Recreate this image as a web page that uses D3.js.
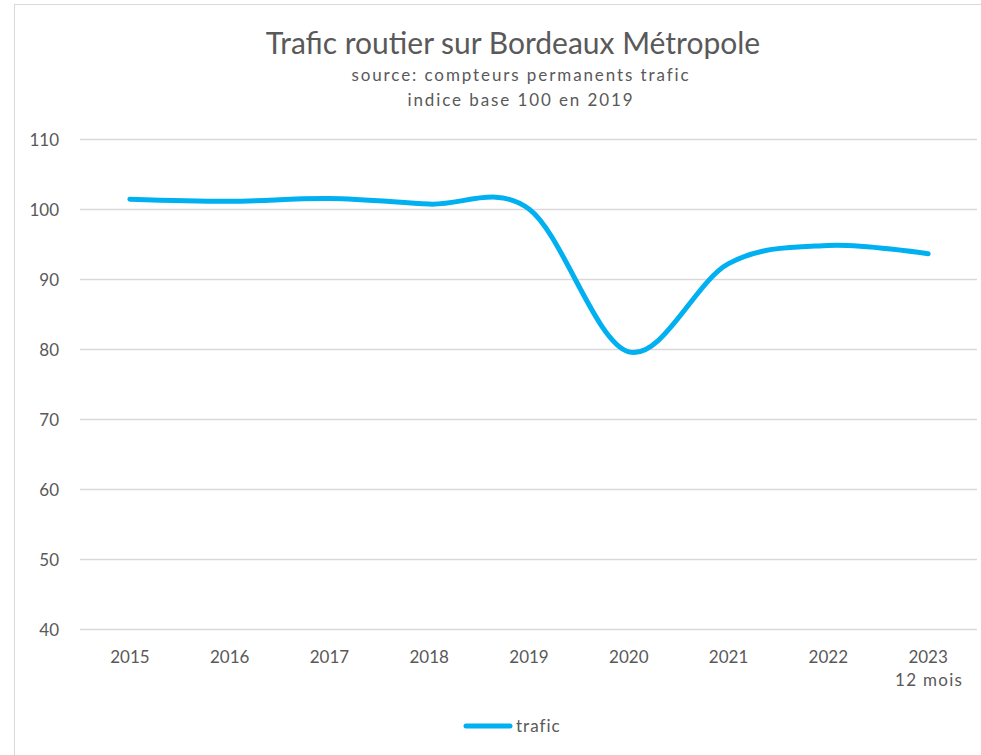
<!DOCTYPE html>
<html><head><meta charset="utf-8">
<script src="https://cdn.jsdelivr.net/npm/d3@7"></script>
<style>body{margin:0;background:#fff}svg{display:block}text{font-family:Lato,"Open Sans",sans-serif;fill:#595959}</style>
</head><body><svg id="c" width="981" height="755"></svg>
<script>
const categories = ["2015","2016","2017","2018","2019","2020","2021","2022","2023"];
const categorySub = ["","","","","","","","","12 mois"];
const trafic = [101.4, 101.1, 101.5, 100.7, 100.0, 79.6, 92.2, 94.8, 93.6];
const yTicks = [40,50,60,70,80,90,100,110];
const title = "Trafic routier sur Bordeaux Métropole";
const subtitles = ["source: compteurs permanents trafic", "indice base 100 en 2019"];
const seriesName = "trafic";

const svg = d3.select("#c");
const W = 981, H = 755;
// chart border
svg.append("rect").attr("x",14.5).attr("y",4.5).attr("width",W).attr("height",H)
  .attr("fill","none").attr("stroke","#d9d9d9").attr("stroke-width",1);

const x = d3.scaleBand().domain(categories).range([80, 978]);
const y = d3.scaleLinear().domain([40,110]).range([629, 139]);

// grid
svg.append("g").selectAll("line").data(yTicks).join("line")
  .attr("x1",80).attr("x2",977).attr("y1",d=>Math.round(y(d))+0.5).attr("y2",d=>Math.round(y(d))+0.5)
  .attr("stroke","#d9d9d9").attr("stroke-width",1.3);

// y labels
const yAxis = d3.axisLeft(y).tickValues(yTicks).tickSize(0).tickPadding(0);
const gy = svg.append("g").attr("transform","translate(59,0)").call(yAxis);
gy.select(".domain").remove();
gy.selectAll("text").attr("font-size",17).attr("dy","0.36em").style("fill","#595959").style("font-family","Lato");

// x labels
const xAxis = d3.axisBottom(x).tickSize(0).tickPadding(0);
const gx = svg.append("g").attr("transform","translate(0,663)").call(xAxis);
gx.select(".domain").remove();
gx.selectAll("text").attr("font-size",17).attr("dy","0").style("fill","#595959").style("font-family","Lato");
svg.append("g").selectAll("text").data(categories.map((c,i)=>({c,s:categorySub[i]})).filter(d=>d.s))
  .join("text").attr("x",d=>x(d.c)+x.bandwidth()/2+1).attr("y",686).attr("text-anchor","middle")
  .attr("font-size",17).attr("letter-spacing","1.3px").text(d=>d.s);

// line
const line = d3.line().x((d,i)=>x(categories[i])+x.bandwidth()/2).y(d=>y(d)).curve(d3.curveCatmullRom.alpha(0));
svg.append("path").datum(trafic).attr("d",line).attr("fill","none")
  .attr("stroke","#00b0f0").attr("stroke-width",5).attr("stroke-linecap","round").attr("stroke-linejoin","round");

// title
svg.append("text").attr("x",513).attr("y",54).attr("text-anchor","middle").attr("font-size",30).text(title);
subtitles.forEach((s,i)=>svg.append("text").attr("x",521).attr("y",81+i*24.5).attr("text-anchor","middle")
  .attr("font-size",17).attr("letter-spacing","1.9px").text(s));

// legend
svg.append("line").attr("x1",466).attr("x2",510).attr("y1",726).attr("y2",726)
  .attr("stroke","#00b0f0").attr("stroke-width",5).attr("stroke-linecap","round");
svg.append("text").attr("x",516).attr("y",732).attr("font-size",17).attr("letter-spacing","1px").text(seriesName);
</script></body></html>
